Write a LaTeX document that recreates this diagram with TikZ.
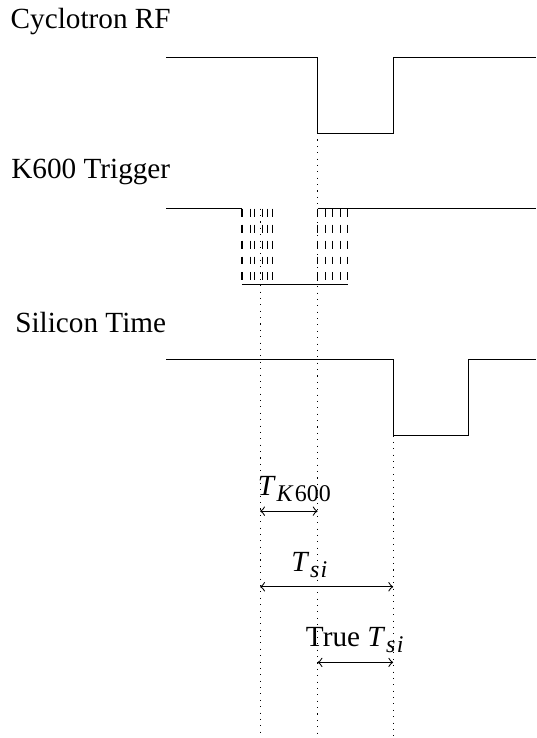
\documentclass[tikz,border=0pt]{standalone}
\usepackage{fontspec}
\setmainfont{Liberation Serif}

\newcommand{\tsub}[2]{\textit{T}\textsubscript{\fontsize{9pt}{10pt}\selectfont #2}}

\begin{document}
\begin{tikzpicture}[font=\fontsize{11pt}{13pt}\selectfont]
      \def\xend{7.09}
      \useasboundingbox (0,0) rectangle (\xend,9.76);

      % signal names
      \node (rf) at (1.2,9.47) {Cyclotron RF};
      \node (trig) at (1.2,7.48) {K600 Trigger};
      \node (sitime) at (1.2,5.5) {Silicon Time};

      % cyclotron rf
      \draw (2.2,9) -- (4.2,9) -- (4.2,8) -- (5.2,8) -- (5.2,9) -- (\xend,9);

      % k600 trigger with jitter
      \draw (2.2,7) -- (3.2,7);
      \draw (4.2,7) -- (\xend,7);
      \draw (3.2,6) -- (4.6,6);
      \foreach \x in {3.2,3.31,3.37,3.47,3.54,3.6,4.2,4.3,4.4,4.5,4.6}
        \draw[dashed] (\x,7) -- (\x,6);

      % silicon time
      \draw (2.2,5) -- (5.2,5) -- (5.2,4) -- (6.2,4) -- (6.2,5) -- (\xend,5);

      % reference lines
      \draw[dotted] (3.44,7) -- (3.44,0);
      \draw[dotted] (4.2,8) -- (4.2,0);
      \draw[dotted] (5.2,4) -- (5.2,0);

      % time differences
      \coordinate (ka) at (3.44,3);
      \coordinate (kb) at (4.2,3);
      \coordinate (sa) at (3.44,2);
      \coordinate (sb) at (5.2,2);
      \coordinate (ta) at (4.2,1);
      \coordinate (tb) at (5.2,1);
      \draw[<->] (ka) -- (kb);
      \draw[<->] (sa) -- (sb);
      \draw[<->] (ta) -- (tb);
      \node[anchor=south] (tk) at (3.9,3) {\tsub{T}{\kern0.3pt\textit{K}\kern0.5pt 600}};
      \node[anchor=south] (tsi) at (4.1,2) {\tsub{T}{\kern0.3pt\textit{s}\kern0.5pt\textit{i}}};
      \node[anchor=south] (truetsi) at (4.7,1) {True \tsub{T}{\kern0.3pt\textit{s}\kern0.5pt\textit{i}}};

    \end{tikzpicture}
\end{document}
